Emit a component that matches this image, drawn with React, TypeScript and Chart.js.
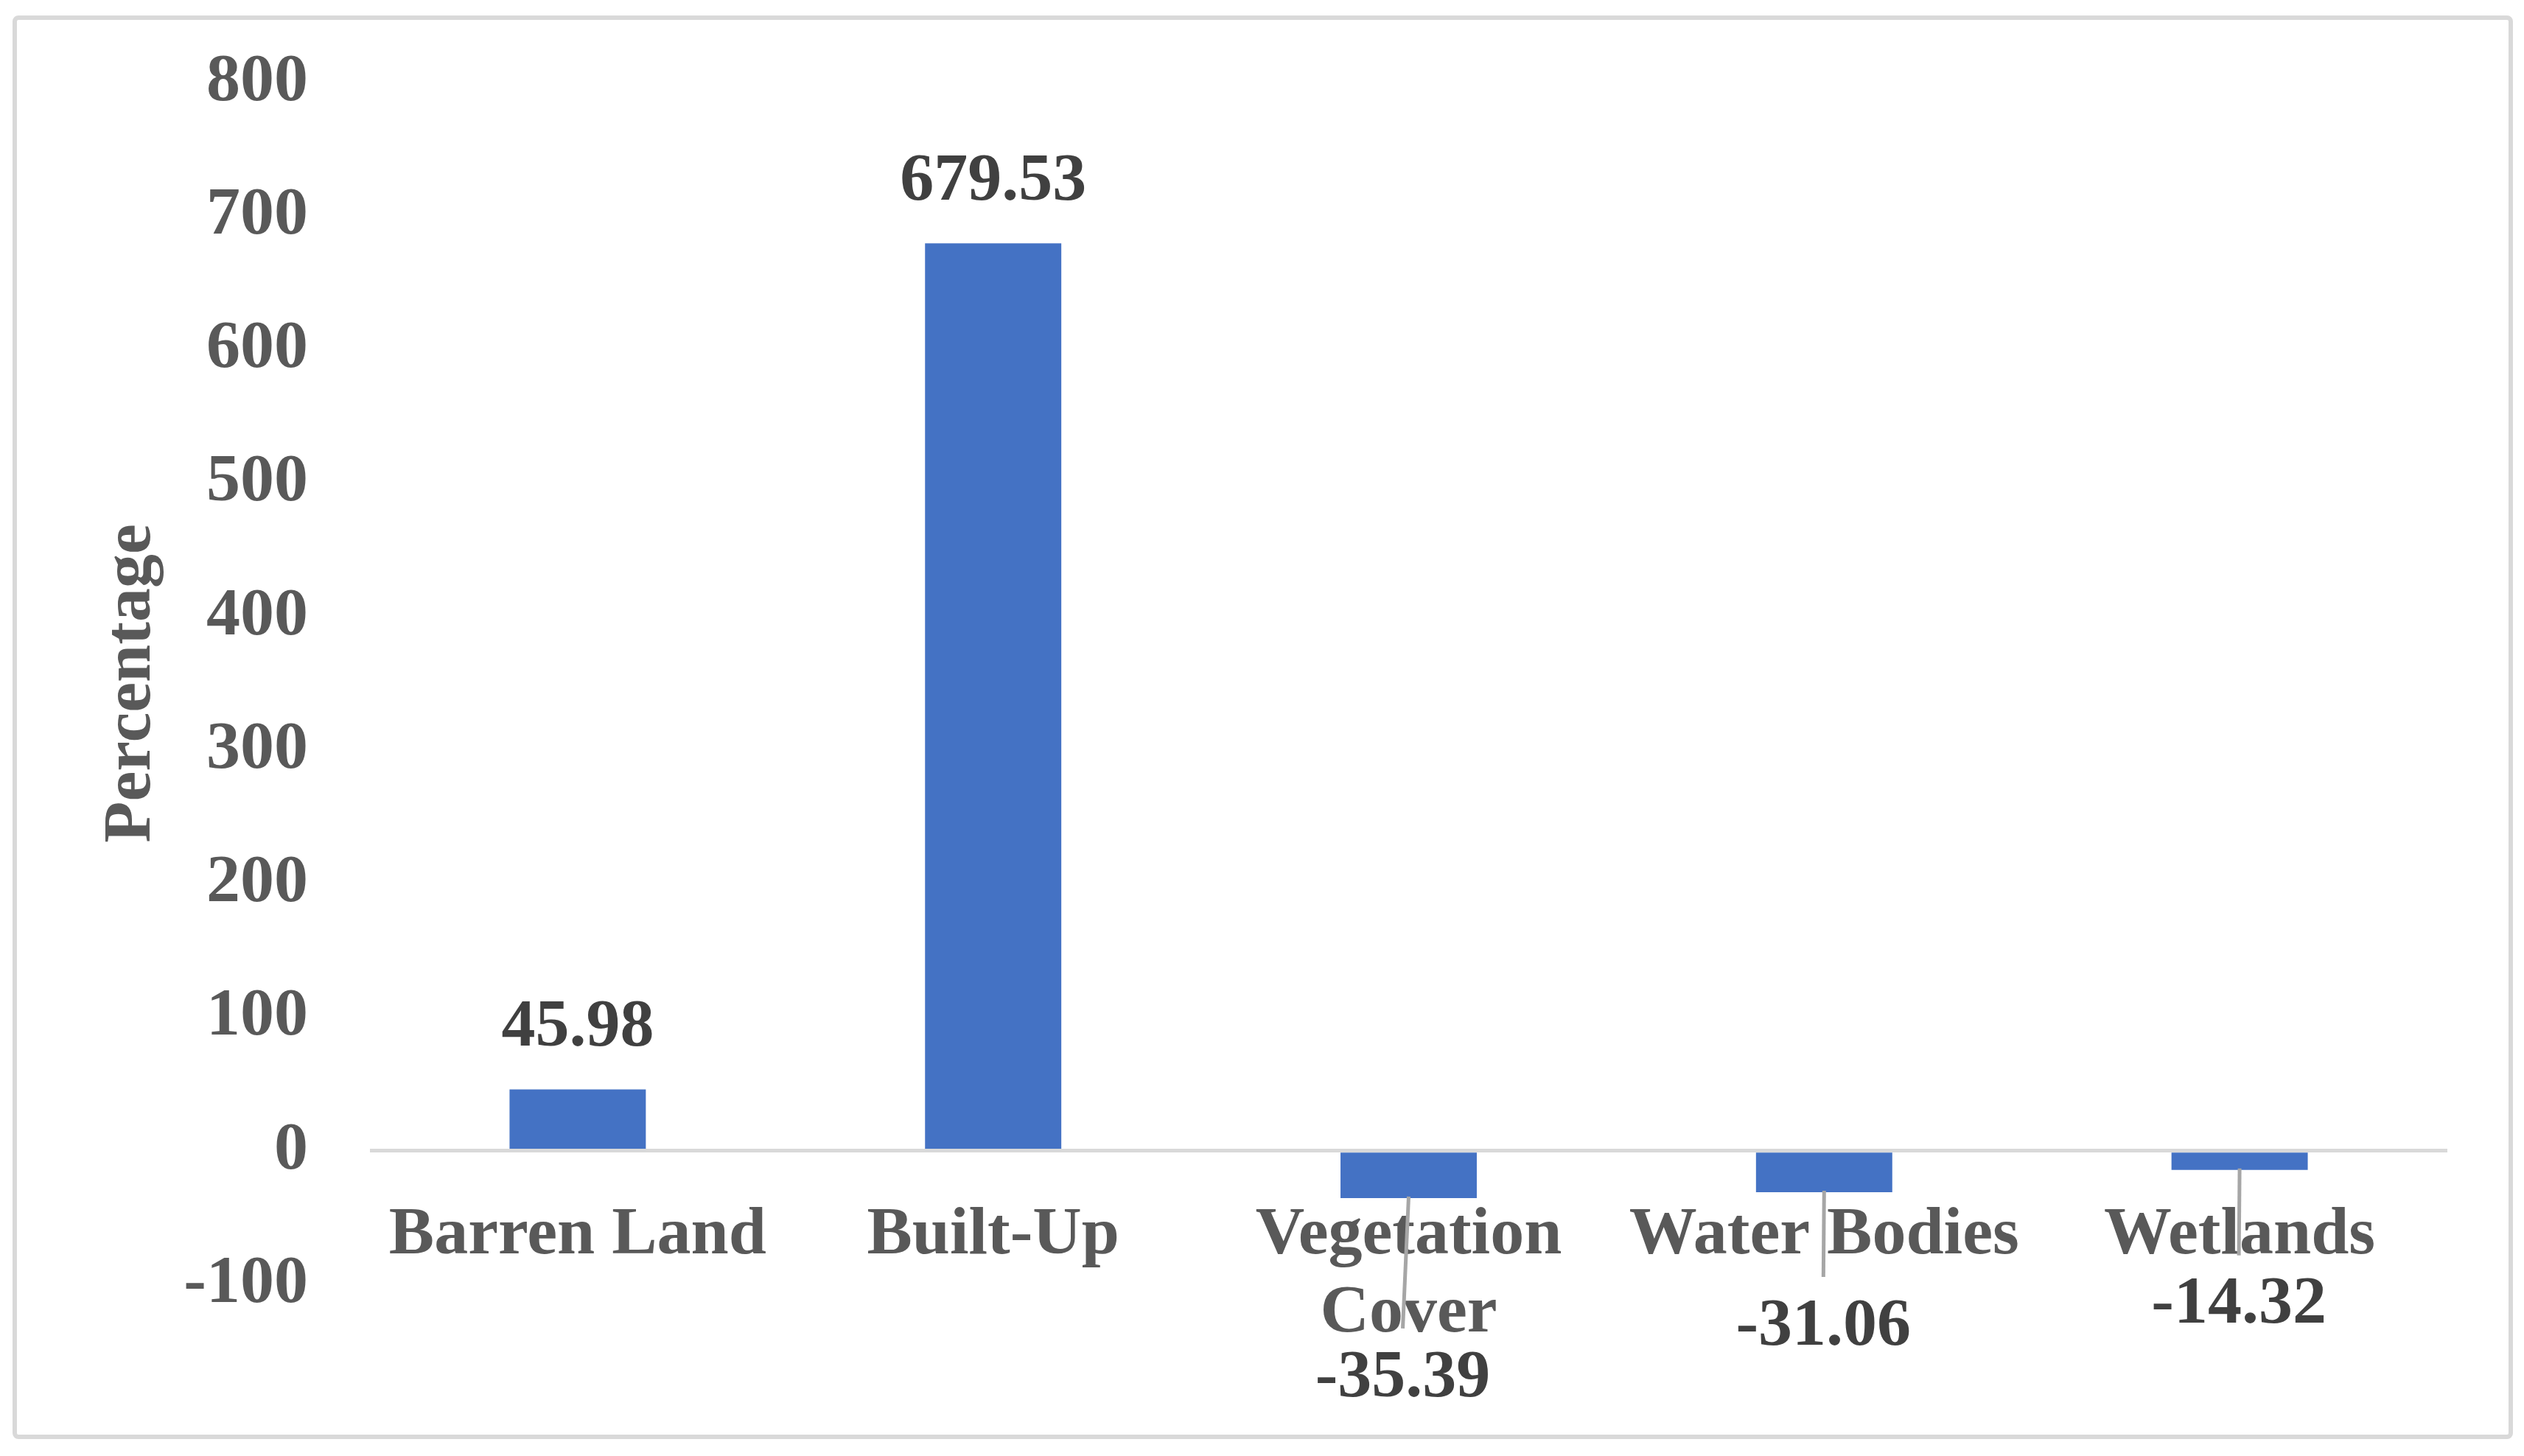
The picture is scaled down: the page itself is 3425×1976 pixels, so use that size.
import React, { useEffect, useRef } from "react";
import { Chart, registerables } from "chart.js";

Chart.register(...registerables);

// ---- data ----
const categories: (string | string[])[] = [
  "Barren Land",
  "Built-Up",
  ["Vegetation", "Cover"],
  "Water Bodies",
  "Wetlands",
];
const changeValues = [45.98, 679.53, -35.39, -31.06, -14.32];
const valueLabels = ["45.98", "679.53", "-35.39", "-31.06", "-14.32"];
const yMin = -100;
const yMax = 800;
const yStep = 100;
const yAxisTitle = "Percentage";

// ---- styles ----
const FONT = "'Liberation Serif', 'Times New Roman', serif";
const FONT_SIZE = 92;
const BAR_COLOR = "#4472C4";
const AXIS_TEXT = "#595959";
const LABEL_TEXT = "#404040";
const LINE_GRAY = "#d9d9d9";
const LEADER_GRAY = "#a6a6a6";

// data label placement relative to bar end (px)
const labelPlacement = [
  { dx: 0, dy: -83, leader: false },
  { dx: 0, dy: -83, leader: false },
  { dx: -8, dy: 245, leader: true },
  { dx: -1, dy: 183, leader: true },
  { dx: -1, dy: 184, leader: true },
];

const decorPlugin = {
  id: "decor",
  beforeDraw(chart: any) {
    const ctx = chart.ctx;
    ctx.save();
    ctx.strokeStyle = LINE_GRAY;
    ctx.lineWidth = 6;
    ctx.beginPath();
    if (ctx.roundRect) ctx.roundRect(20, 24, 3387, 1926, 5);
    else ctx.rect(20, 24, 3387, 1926);
    ctx.stroke();
    ctx.restore();
  },
  afterDatasetsDraw(chart: any) {
    const ctx = chart.ctx;
    const meta = chart.getDatasetMeta(0);
    ctx.save();
    ctx.font = `bold ${FONT_SIZE}px ${FONT}`;
    ctx.textAlign = "center";
    ctx.textBaseline = "middle";
    meta.data.forEach((bar: any, i: number) => {
      const p = bar.getProps(["x", "y"], true);
      const pl = labelPlacement[i];
      const lx = p.x + pl.dx;
      const ly = p.y + pl.dy;
      if (pl.leader) {
        ctx.strokeStyle = LEADER_GRAY;
        ctx.lineWidth = 5;
        ctx.beginPath();
        ctx.moveTo(p.x, p.y - 2);
        ctx.lineTo(lx, ly - 68);
        ctx.stroke();
      }
      ctx.fillStyle = LABEL_TEXT;
      ctx.fillText(valueLabels[i], lx, ly);
    });
    ctx.restore();
  },
};

export default function App() {
  const canvasRef = useRef<HTMLCanvasElement | null>(null);

  useEffect(() => {
    if (!canvasRef.current) return;
    const chart = new Chart(canvasRef.current, {
      type: "bar",
      data: {
        labels: categories as any,
        datasets: [
          {
            data: changeValues,
            backgroundColor: BAR_COLOR,
            borderWidth: 0,
            categoryPercentage: 1,
            barPercentage: 0.328,
          },
        ],
      },
      options: {
        animation: false,
        responsive: false,
        devicePixelRatio: 1,
        layout: { padding: { left: 20, top: 112, right: 104, bottom: 233 } },
        plugins: {
          legend: { display: false },
          tooltip: { enabled: false },
        },
        scales: {
          y: {
            min: yMin,
            max: yMax,
            afterFit: (scale: any) => {
              scale.width = 482;
            },
            ticks: {
              stepSize: yStep,
              padding: 4,
              color: AXIS_TEXT,
              font: { family: FONT, size: FONT_SIZE, weight: "bold" },
              callback: (v: any) => String(v),
            },
            grid: {
              z: 1,
              drawTicks: true,
              tickLength: 80,
              tickColor: "rgba(0,0,0,0)",
              lineWidth: 5,
              color: (c: any) =>
                c.tick && c.tick.value === 0 ? LINE_GRAY : "rgba(0,0,0,0)",
            },
            border: { display: false },
            title: {
              display: true,
              text: yAxisTitle,
              color: AXIS_TEXT,
              font: { family: FONT, size: FONT_SIZE, weight: "bold" },
              padding: { top: 104, bottom: 0 },
            },
          },
          x: {
            position: { y: 0 } as any,
            offset: true,
            grid: { display: false, drawTicks: false },
            border: { display: false },
            ticks: {
              padding: 63,
              autoSkip: false,
              maxRotation: 0,
              minRotation: 0,
              color: AXIS_TEXT,
              font: {
                family: FONT,
                size: FONT_SIZE,
                weight: "bold",
                lineHeight: 1.15,
              },
            },
          },
        },
      } as any,
      plugins: [decorPlugin],
    });
    return () => chart.destroy();
  }, []);

  return (
    <div
      style={{
        position: "fixed",
        left: 0,
        top: 0,
        width: 3425,
        height: 1976,
        background: "#ffffff",
      }}
    >
      <canvas
        ref={canvasRef}
        width={3425}
        height={1976}
        style={{ width: 3425, height: 1976, display: "block" }}
      />
    </div>
  );
}
